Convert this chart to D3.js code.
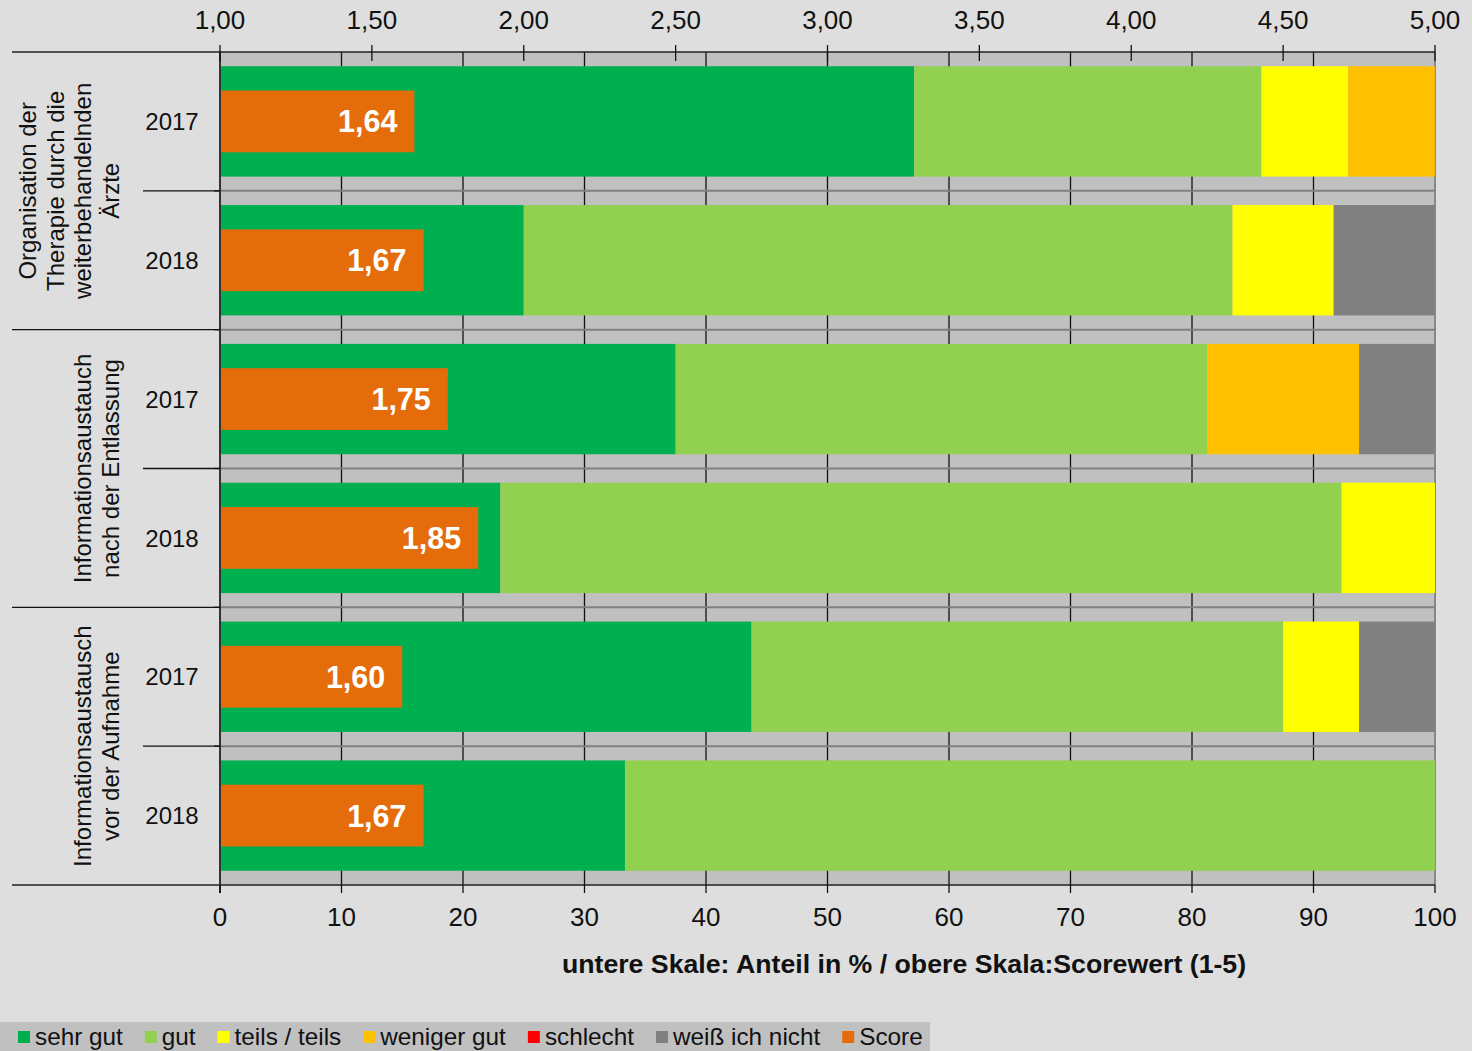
<!DOCTYPE html>
<html><head><meta charset="utf-8">
<script src="https://cdn.jsdelivr.net/npm/d3@7"></script>
<style>
html,body{margin:0;padding:0;background:#dedede;}
text{font-family:"Liberation Sans",Arial,sans-serif;}
</style></head>
<body>
<svg id="chart" width="1472" height="1051"></svg>
<script>
// ---- data ----
const groups = [
  ["Organisation der","Therapie durch die","weiterbehandelnden","Ärzte"],
  ["Informationsaustauch","nach der Entlassung"],
  ["Informationsaustausch","vor der Aufnahme"]
];
const years = ["2017","2018","2017","2018","2017","2018"];
const rowGroup = [0,0,1,1,2,2];
const sehrGut    = [57.14, 25.00, 37.50, 23.08, 43.75, 33.33];
const gut        = [28.57, 58.33, 43.75, 69.23, 43.75, 66.67];
const teils      = [ 7.14,  8.33,  0.00,  7.69,  6.25,  0.00];
const wenigerGut = [ 7.14,  0.00, 12.50,  0.00,  0.00,  0.00];
const schlecht   = [ 0.00,  0.00,  0.00,  0.00,  0.00,  0.00];
const weissNicht = [ 0.00,  8.33,  6.25,  0.00,  6.25,  0.00];
const score      = [1.64, 1.67, 1.75, 1.85, 1.60, 1.67];
const seriesNames = ["sehr gut","gut","teils / teils","weniger gut","schlecht","weiß ich nicht"];
const seriesColors = ["#00B050","#92D050","#FFFF00","#FFC000","#FF0000","#808080"];
const scoreName = "Score", scoreColor = "#E46C0A";
const pctTicks = [0,10,20,30,40,50,60,70,80,90,100];
const scoreTicks = [1,1.5,2,2.5,3,3.5,4,4.5,5];
const axisTitle = "untere Skale: Anteil in % / obere Skala:Scorewert (1-5)";

// ---- layout ----
const svg = d3.select("#chart");
const L = 220, R = 1435, T = 52, B = 885;
const x = d3.scaleLinear().domain([0,100]).range([L,R]);
const xs = d3.scaleLinear().domain([1,5]).range([L,R]);
const rows = d3.range(years.length);
const y = d3.scaleBand().domain(rows).range([T,B]).padding(0);
const bw = y.bandwidth();
const barH = bw*0.795, scoreH = bw*0.445;
const fmt = v => d3.format(".2f")(v).replace(".",",");

svg.append("rect").attr("width",1472).attr("height",1051).attr("fill","#dedede");
svg.append("rect").attr("x",L).attr("y",T).attr("width",R-L).attr("height",B-T).attr("fill","#c0c0c0");

// vertical gridlines
svg.append("g").selectAll("line").data(pctTicks.slice(1,-1)).join("line")
  .attr("x1",d=>x(d)).attr("x2",d=>x(d)).attr("y1",T).attr("y2",B)
  .attr("stroke","#111").attr("stroke-width",1.3);
svg.append("line").attr("x1",R).attr("x2",R).attr("y1",T).attr("y2",B).attr("stroke","#888").attr("stroke-width",2);
// horizontal row separators in plot
svg.append("g").selectAll("line").data(rows.slice(1)).join("line")
  .attr("x1",L).attr("x2",R).attr("y1",d=>y(d)).attr("y2",d=>y(d))
  .attr("stroke","#808080").attr("stroke-width",2);

// stacked bars
const table = rows.map(i=>({i, "sehr gut":sehrGut[i], "gut":gut[i], "teils / teils":teils[i], "weniger gut":wenigerGut[i], "schlecht":schlecht[i], "weiß ich nicht":weissNicht[i]}));
const stacked = d3.stack().keys(seriesNames)(table);
svg.append("g").selectAll("g").data(stacked).join("g")
  .attr("fill",(d,k)=>seriesColors[k])
  .selectAll("rect").data(d=>d).join("rect")
  .attr("x",d=>x(d[0])).attr("width",d=>Math.max(0,x(d[1])-x(d[0])))
  .attr("y",d=>y(d.data.i)+(bw-barH)/2).attr("height",barH);

// score bars
svg.append("g").selectAll("rect").data(rows).join("rect")
  .attr("x",L).attr("width",i=>xs(score[i])-L)
  .attr("y",i=>y(i)+(bw-scoreH)/2).attr("height",scoreH).attr("fill",scoreColor);
svg.append("g").selectAll("text").data(rows).join("text")
  .attr("x",i=>xs(score[i])-17).attr("y",i=>y(i)+bw/2).attr("dy","0.36em")
  .attr("text-anchor","end").attr("fill","#fff").attr("font-weight","bold").attr("font-size",30.5)
  .text(i=>fmt(score[i]));

// axes lines
svg.append("line").attr("x1",12).attr("x2",R).attr("y1",T).attr("y2",T).attr("stroke","#222").attr("stroke-width",1.5);
svg.append("line").attr("x1",12).attr("x2",R).attr("y1",B).attr("y2",B).attr("stroke","#222").attr("stroke-width",1.5);
svg.append("line").attr("x1",L).attr("x2",L).attr("y1",T).attr("y2",B+8).attr("stroke","#333").attr("stroke-width",2);

// category separator lines on left
const grpBounds = [2,4];
svg.append("g").selectAll("line").data(grpBounds).join("line")
  .attr("x1",12).attr("x2",L).attr("y1",d=>y(d)).attr("y2",d=>y(d)).attr("stroke","#111").attr("stroke-width",1.3);
svg.append("g").selectAll("line").data([1,3,5]).join("line")
  .attr("x1",143).attr("x2",L).attr("y1",d=>y(d)).attr("y2",d=>y(d)).attr("stroke","#111").attr("stroke-width",1.3);
svg.append("g").selectAll("line").data(rows.slice(1)).join("line")
  .attr("x1",L-6).attr("x2",L).attr("y1",d=>y(d)).attr("y2",d=>y(d)).attr("stroke","#111").attr("stroke-width",1.3);

// bottom axis
const bAxis = svg.append("g");
bAxis.selectAll("line").data(pctTicks).join("line")
  .attr("x1",d=>x(d)).attr("x2",d=>x(d)).attr("y1",B).attr("y2",B+8).attr("stroke","#111").attr("stroke-width",1.3);
bAxis.selectAll("text").data(pctTicks).join("text")
  .attr("x",d=>x(d)).attr("y",926).attr("text-anchor","middle").attr("font-size",26).attr("fill","#111")
  .text(d=>d);
// top axis
const tAxis = svg.append("g");
tAxis.selectAll("line").data(scoreTicks).join("line")
  .attr("x1",d=>xs(d)).attr("x2",d=>xs(d)).attr("y1",T-7).attr("y2",T+9).attr("stroke","#111").attr("stroke-width",1.3);
tAxis.selectAll("text").data(scoreTicks).join("text")
  .attr("x",d=>xs(d)).attr("y",29).attr("text-anchor","middle").attr("font-size",26).attr("fill","#111")
  .text(d=>fmt(d));

// axis title
svg.append("text").attr("x",904).attr("y",973).attr("text-anchor","middle")
  .attr("font-size",26.7).attr("font-weight","bold").attr("fill","#111").text(axisTitle);

// year labels
svg.append("g").selectAll("text").data(rows).join("text")
  .attr("x",172).attr("y",i=>y(i)+bw/2).attr("dy","0.36em").attr("text-anchor","middle")
  .attr("font-size",24).attr("fill","#111").text(i=>years[i]);

// group labels
groups.forEach((lines,g)=>{
  const rs = rows.filter(i=>rowGroup[i]===g);
  const cy = (y(rs[0]) + y(rs[rs.length-1]) + bw)/2;
  const n = lines.length;
  const t = svg.append("text").attr("transform",`translate(0,${cy}) rotate(-90)`)
    .attr("text-anchor","middle").attr("font-size",24).attr("fill","#111");
  lines.forEach((ln,k)=>{
    t.append("tspan").attr("x",0).attr("y",110 - (n-1-k)*27.5 + 8.5).text(ln);
  });
});

// legend
svg.append("rect").attr("x",0).attr("y",1022).attr("width",930).attr("height",29).attr("fill","#c0c0c0");
const legItems = seriesNames.map((n,k)=>({n,c:seriesColors[k]})).concat([{n:scoreName,c:scoreColor}]);
let lx = 18;
legItems.forEach(it=>{
  svg.append("rect").attr("x",lx).attr("y",1031).attr("width",12).attr("height",12).attr("fill",it.c);
  const tx = svg.append("text").attr("x",lx+17).attr("y",1045).attr("font-size",24.3).attr("fill","#111").text(it.n);
  lx = lx + 17 + tx.node().getComputedTextLength() + 22;
});
</script>
</body></html>
